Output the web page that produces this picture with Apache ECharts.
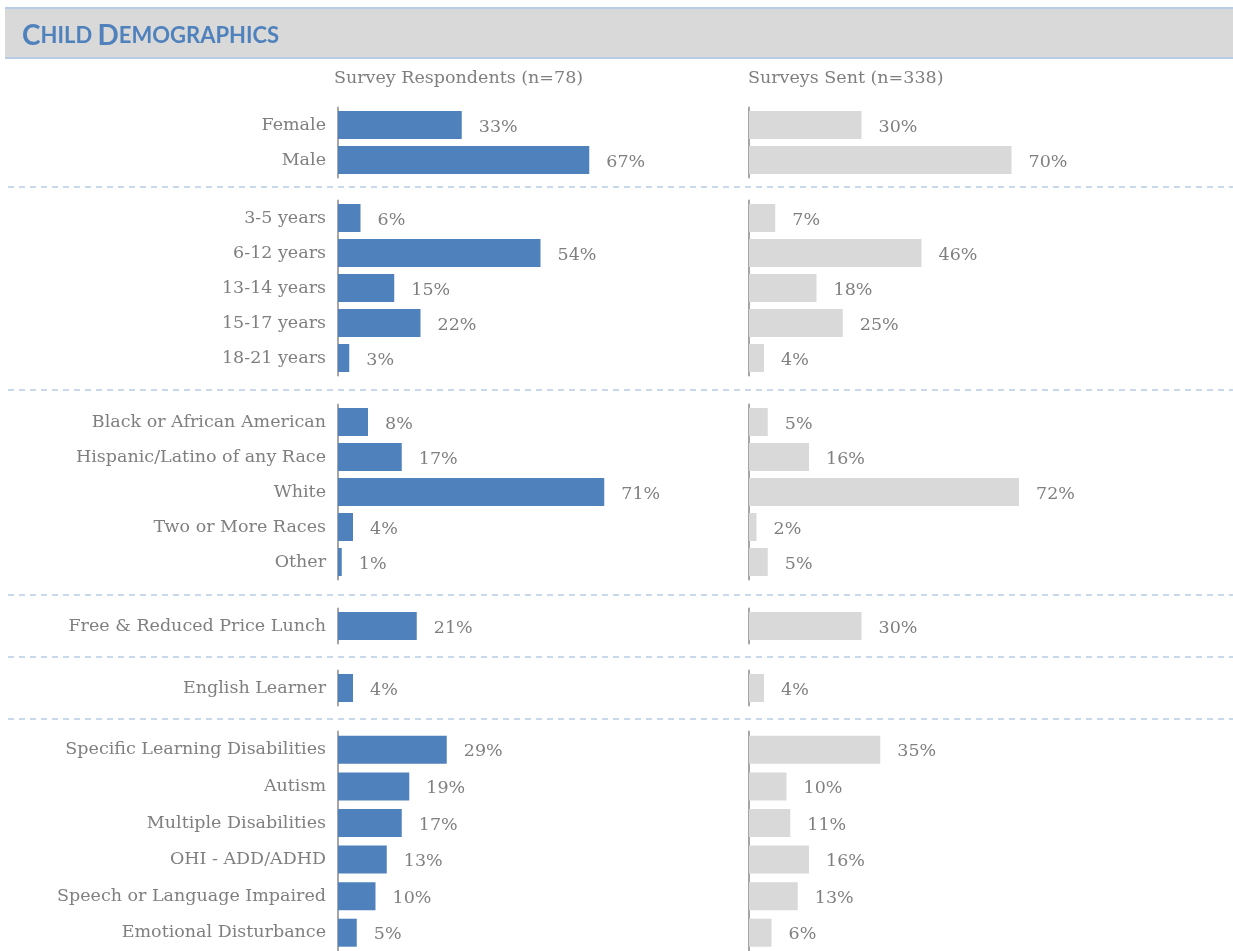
<!DOCTYPE html>
<html lang="en">
<head>
    <meta charset="UTF-8">
    <title>Child Demographics</title>
    <style>
        html, body { margin: 0; padding: 0; background: #fff; }
        #main { width: 1233px; height: 951px; }
    </style>
</head>
<body>
<div id="main"></div>

<script src="https://cdn.jsdelivr.net/npm/echarts@6/dist/echarts.min.js"></script>
<script>
    // values, in percent
    var genderCats = ['Female', 'Male'];
    var genderResp = [33, 67];
    var genderSent = [30, 70];

    var ageCats = ['3-5 years', '6-12 years', '13-14 years', '15-17 years', '18-21 years'];
    var ageResp = [6, 54, 15, 22, 3];
    var ageSent = [7, 46, 18, 25, 4];

    var raceCats = ['Black or African American', 'Hispanic/Latino of any Race', 'White', 'Two or More Races', 'Other'];
    var raceResp = [8, 17, 71, 4, 1];
    var raceSent = [5, 16, 72, 2, 5];

    var lunchCats = ['Free & Reduced Price Lunch'];
    var lunchResp = [21];
    var lunchSent = [30];

    var elCats = ['English Learner'];
    var elResp = [4];
    var elSent = [4];

    var disCats = ['Specific Learning Disabilities', 'Autism', 'Multiple Disabilities', 'OHI - ADD/ADHD', 'Speech or Language Impaired', 'Emotional Disturbance'];
    var disResp = [29, 19, 17, 13, 10, 5];
    var disSent = [35, 10, 11, 16, 13, 6];

    var headings = ['Survey Respondents (n=78)', 'Surveys Sent (n=338)'];

    (function () {
        var serif = '"DejaVu Serif", serif';
        var textGray = '#7f7f7f';
        var blue = '#4f81bd';
        var lightGray = '#d9d9d9';
        var lineBlue = '#b8cce4';
        var fs = 17.5;

        // one block per group: categories, both series, top of band, row pitch
        var groups = [
            {cats: genderCats, resp: genderResp, sent: genderSent, top: 107.5, pitch: 35},
            {cats: ageCats, resp: ageResp, sent: ageSent, top: 200.5, pitch: 35},
            {cats: raceCats, resp: raceResp, sent: raceSent, top: 404.5, pitch: 35},
            {cats: lunchCats, resp: lunchResp, sent: lunchSent, top: 608.5, pitch: 35},
            {cats: elCats, resp: elResp, sent: elSent, top: 670.5, pitch: 35},
            {cats: disCats, resp: disResp, sent: disSent, top: 731.5, pitch: 37}
        ];
        var dividers = [187, 390, 595, 657, 719];

        var sides = [
            {key: 'resp', left: 338, color: blue, showCats: true},
            {key: 'sent', left: 749, color: lightGray, showCats: false}
        ];

        var grid = [], xAxis = [], yAxis = [], series = [];

        groups.forEach(function (g) {
            sides.forEach(function (s) {
                var idx = grid.length;
                grid.push({
                    left: s.left,
                    width: 375,
                    top: g.top,
                    height: g.pitch * g.cats.length,
                    containLabel: false
                });
                xAxis.push({
                    gridIndex: idx,
                    type: 'value',
                    min: 0,
                    max: 100,
                    show: false
                });
                yAxis.push({
                    gridIndex: idx,
                    type: 'category',
                    inverse: true,
                    data: g.cats,
                    axisLine: {show: true, lineStyle: {color: '#a6a6a6', width: 2}},
                    axisTick: {show: false},
                    splitLine: {show: false},
                    axisLabel: {
                        show: s.showCats,
                        margin: 12,
                        color: textGray,
                        fontFamily: serif,
                        fontSize: fs,
                        padding: [3, 0, 0, 0]
                    }
                });
                series.push({
                    type: 'bar',
                    xAxisIndex: idx,
                    yAxisIndex: idx,
                    data: g[s.key],
                    barWidth: 28,
                    itemStyle: {color: s.color},
                    label: {
                        show: true,
                        position: 'right',
                        distance: 17,
                        formatter: '{c}%',
                        color: textGray,
                        fontFamily: serif,
                        fontSize: fs,
                        offset: [0, 2]
                    },
                    silent: true,
                    animation: false
                });
            });
        });

        var graphic = [
            {type: 'rect', shape: {x: 5, y: 8, width: 1228, height: 50}, style: {fill: lightGray}, z: -1},
            {type: 'line', shape: {x1: 5, y1: 8, x2: 1233, y2: 8}, style: {stroke: lineBlue, lineWidth: 2}},
            {type: 'line', shape: {x1: 5, y1: 58, x2: 1233, y2: 58}, style: {stroke: lineBlue, lineWidth: 2}}
        ];
        dividers.forEach(function (y) {
            graphic.push({
                type: 'line',
                shape: {x1: 8, y1: y, x2: 1233, y2: y},
                style: {stroke: lineBlue, lineWidth: 1.5, lineDash: [6, 5]}
            });
        });

        var chart = echarts.init(document.getElementById('main'));
        chart.setOption({
            backgroundColor: '#fff',
            animation: false,
            title: [
                {
                    text: '{b|C}{s|HILD }{b|D}{s|EMOGRAPHICS}',
                    left: 17,
                    top: 17,
                    textStyle: {
                        rich: {
                            b: {fontFamily: 'Lato', fontWeight: 'bold', fontSize: 28, color: blue},
                            s: {fontFamily: 'Lato', fontWeight: 'bold', fontSize: 22, color: blue}
                        }
                    }
                },
                {
                    text: headings[0],
                    left: 329,
                    top: 64,
                    textStyle: {fontFamily: serif, fontSize: fs, fontWeight: 'normal', color: textGray}
                },
                {
                    text: headings[1],
                    left: 743,
                    top: 64,
                    textStyle: {fontFamily: serif, fontSize: fs, fontWeight: 'normal', color: textGray}
                }
            ],
            graphic: graphic,
            grid: grid,
            xAxis: xAxis,
            yAxis: yAxis,
            series: series
        });
    })();
</script>
</body>
</html>
